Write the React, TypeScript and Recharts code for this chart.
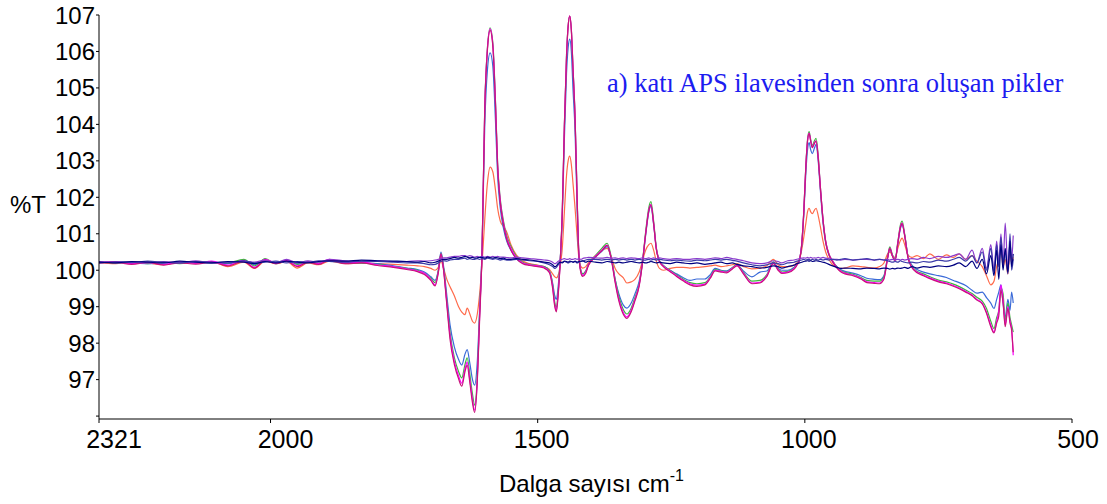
import React from 'react';
import { LineChart, Line, XAxis, YAxis, Label } from 'recharts';

// wavenumber grid (cm-1), high -> low
const wavenumbers = [
  2321, 2290, 2260, 2230, 2200, 2170, 2140, 2110, 2080, 2050,
  2030, 2010, 1990, 1970, 1950, 1930, 1910, 1890, 1860, 1830,
  1800, 1770, 1745, 1725, 1712, 1700, 1692, 1686, 1681, 1676,
  1670, 1664, 1656, 1648, 1642, 1636, 1632, 1627, 1622, 1618,
  1613, 1609, 1604, 1599, 1594, 1589, 1584, 1579, 1575, 1570,
  1564, 1558, 1550, 1540, 1528, 1515, 1500, 1488, 1478, 1472,
  1468, 1465, 1462, 1458, 1454, 1450, 1446, 1443, 1440, 1437,
  1434, 1430, 1426, 1423, 1419, 1416, 1410, 1405, 1392, 1380,
  1370, 1362, 1355, 1348, 1340, 1333, 1325, 1318, 1310, 1304,
  1298, 1292, 1288, 1283, 1278, 1272, 1265, 1252, 1240, 1228,
  1215, 1202, 1187, 1177, 1168, 1157, 1146, 1136, 1127, 1115,
  1099, 1084, 1071, 1059, 1050, 1043, 1032, 1020, 1015, 1010,
  1006, 1002, 998, 995, 992, 989, 986, 982, 979, 975,
  971, 966, 961, 955, 948, 940, 933, 925, 910, 895,
  884, 870, 860, 852, 845, 841, 836, 831, 826, 821,
  818, 813, 807, 800, 790, 778, 766, 750, 735, 722,
  711, 699, 687, 678, 668, 660, 652, 646, 641, 637,
  633, 629, 625, 620, 616, 613, 610,
];

const orangeT = [
  100.2, 100.18, 100.22, 100.2, 100.15, 100.22, 100.2, 100.24, 100.1, 100.22,
  100.05, 100.25, 100.18, 100.24, 100.06, 100.2, 100.15, 100.25, 100.18, 100.2,
  100.18, 100.16, 100.14, 100.12, 100.1, 100.05, 100.0, 100.08, 100.25, 100.05,
  99.75, 99.55, 99.3, 99.0, 98.85, 98.78, 98.96, 98.8, 98.6, 98.55,
  98.8, 99.3, 100.2, 101.4, 102.4, 102.83, 102.7, 102.2, 101.7, 101.35,
  101.2, 101.05, 100.7, 100.42, 100.25, 100.18, 100.14, 100.1, 100.02, 99.9,
  99.82, 99.79, 99.85, 100.1, 100.6, 101.6, 102.6, 103.0, 103.13, 102.9,
  102.4, 101.7, 100.9, 100.35, 100.1, 100.06, 100.1, 100.2, 100.4, 100.55,
  100.6, 100.35, 100.05, 99.9, 99.8, 99.65, 99.68, 99.75, 99.95, 100.25,
  100.55, 100.7, 100.74, 100.55, 100.25, 100.05, 100.0, 100.05, 100.08, 100.08,
  100.06, 100.08, 100.1, 100.12, 100.14, 100.1, 100.12, 100.15, 100.18, 100.1,
  100.04, 100.06, 100.12, 100.3, 100.15, 100.1, 100.1, 100.14, 100.2, 100.3,
  100.55, 100.9, 101.3, 101.6, 101.7, 101.6, 101.55, 101.65, 101.7, 101.5,
  101.2, 100.8, 100.5, 100.3, 100.15, 100.08, 100.05, 100.06, 100.12, 100.1,
  100.08, 100.06, 100.1, 100.2, 100.45, 100.5, 100.4, 100.35, 100.6, 100.82,
  100.88, 100.7, 100.42, 100.35, 100.4, 100.32, 100.45, 100.3, 100.42, 100.35,
  100.45, 100.3, 100.4, 100.25, 100.1, 99.85, 99.6, 99.7, 100.1, 100.3,
  100.6, 100.1, 100.3, 99.9, 100.5, 100.2, 100.35,
];

const blueT = [
  100.2, 100.22, 100.2, 100.18, 100.2, 100.2, 100.22, 100.2, 100.18, 100.24,
  100.15, 100.26, 100.22, 100.25, 100.18, 100.22, 100.2, 100.26, 100.22, 100.2,
  100.18, 100.12, 100.06, 100.02, 99.95, 99.82, 99.72, 100.0, 100.5, 100.1,
  99.3, 98.5, 97.9, 97.55, 97.4, 97.7, 97.82, 97.45, 97.0, 96.85,
  97.5, 98.8, 100.6, 104.0, 105.5, 105.96, 105.6, 104.1, 102.6, 101.7,
  101.15, 100.8, 100.55, 100.32, 100.2, 100.15, 100.12, 100.1, 99.98, 99.65,
  99.3, 99.2, 99.5, 100.25, 101.4, 103.6, 105.4, 106.1, 106.34, 106.0,
  105.0, 103.8, 101.6, 100.4, 99.98, 99.9, 99.98, 100.15, 100.36, 100.52,
  100.65, 100.3, 99.75, 99.35, 99.05, 98.96, 99.1, 99.35, 99.7, 100.2,
  100.95, 101.6, 101.75, 101.25, 100.6, 100.25, 100.13, 100.0, 99.9, 99.8,
  99.72, 99.76, 99.76, 99.88, 100.05, 100.0, 99.98, 100.07, 100.14, 99.98,
  99.82, 99.95, 99.98, 100.22, 100.06, 100.0, 100.0, 100.08, 100.16, 100.3,
  100.65, 101.5, 102.7, 103.3, 103.5, 103.3, 103.2, 103.35, 103.45, 103.0,
  102.2, 101.3, 100.75, 100.42, 100.24, 100.1, 100.02, 99.97, 99.92, 99.85,
  99.78, 99.75, 99.74, 99.85, 100.35, 100.58, 100.4, 100.3, 100.72, 101.15,
  101.25, 100.95, 100.38, 100.15, 100.02, 99.95, 99.9, 99.85, 99.8, 99.72,
  99.66, 99.58, 99.45, 99.37, 99.4, 99.25, 99.1, 98.95, 99.2, 99.4,
  99.6, 99.1, 98.7, 99.2, 98.9, 99.4, 99.1,
];

const greenT = [
  100.24, 100.2, 100.22, 100.18, 100.22, 100.18, 100.24, 100.2, 100.2, 100.3,
  100.12, 100.32, 100.18, 100.26, 100.16, 100.22, 100.2, 100.28, 100.22, 100.2,
  100.16, 100.1, 100.05, 100.0, 99.92, 99.78, 99.66, 99.98, 100.46, 100.04,
  99.15, 98.3, 97.6, 97.22, 97.05, 97.42, 97.6, 97.15, 96.6, 96.3,
  97.1, 98.7, 100.6, 104.5, 106.1, 106.65, 106.25, 104.65, 102.95, 101.95,
  101.35, 100.95, 100.65, 100.38, 100.22, 100.16, 100.13, 100.1, 99.97, 99.6,
  99.12, 98.98, 99.35, 100.22, 101.6, 104.0, 105.9, 106.7, 106.96, 106.6,
  105.6, 104.2, 101.9, 100.5, 99.98, 99.9, 99.98, 100.16, 100.4, 100.6,
  100.74, 100.35, 99.75, 99.28, 98.93, 98.8, 98.96, 99.25, 99.62, 100.22,
  101.05, 101.72, 101.88, 101.35, 100.62, 100.26, 100.13, 99.99, 99.87, 99.76,
  99.66, 99.63, 99.66, 99.82, 100.02, 99.98, 99.96, 100.06, 100.16, 99.94,
  99.7, 99.72, 99.88, 100.22, 100.04, 99.95, 99.97, 100.06, 100.16, 100.3,
  100.7, 101.6, 102.9, 103.58, 103.8, 103.58, 103.42, 103.55, 103.62, 103.15,
  102.3, 101.4, 100.8, 100.45, 100.26, 100.09, 99.99, 99.94, 99.89, 99.8,
  99.72, 99.7, 99.7, 99.82, 100.38, 100.64, 100.42, 100.3, 100.78, 101.25,
  101.35, 100.98, 100.38, 100.12, 99.97, 99.9, 99.82, 99.73, 99.68, 99.62,
  99.55, 99.46, 99.36, 99.26, 99.15, 98.95, 98.6, 98.4, 98.7, 98.9,
  99.5, 99.35, 98.6, 99.1, 98.7, 98.5, 98.3,
];

const magentaT = [
  100.22, 100.24, 100.18, 100.21, 100.16, 100.23, 100.19, 100.25, 100.14, 100.27,
  100.08, 100.3, 100.2, 100.28, 100.12, 100.24, 100.18, 100.3, 100.2, 100.22,
  100.15, 100.1, 100.04, 99.98, 99.92, 99.75, 99.6, 99.95, 100.45, 100.0,
  99.1, 98.2, 97.5, 97.1, 96.9, 97.3, 97.48, 97.0, 96.45, 96.16,
  97.0, 98.6, 100.6, 104.5, 106.1, 106.62, 106.2, 104.6, 102.9, 101.9,
  101.3, 100.9, 100.6, 100.35, 100.2, 100.15, 100.12, 100.08, 99.95, 99.55,
  99.05, 98.9, 99.3, 100.2, 101.6, 104.0, 105.9, 106.7, 106.98, 106.6,
  105.6, 104.2, 101.9, 100.5, 99.95, 99.86, 99.95, 100.15, 100.38, 100.55,
  100.69, 100.3, 99.7, 99.2, 98.85, 98.72, 98.9, 99.2, 99.6, 100.2,
  101.0, 101.65, 101.8, 101.3, 100.6, 100.25, 100.12, 99.98, 99.85, 99.73,
  99.63, 99.59, 99.62, 99.8, 100.0, 99.97, 99.95, 100.05, 100.14, 99.92,
  99.65, 99.67, 99.85, 100.2, 100.02, 99.93, 99.95, 100.05, 100.15, 100.3,
  100.7, 101.6, 102.9, 103.55, 103.76, 103.55, 103.38, 103.5, 103.55, 103.1,
  102.3, 101.4, 100.8, 100.45, 100.25, 100.08, 99.98, 99.92, 99.87, 99.78,
  99.68, 99.66, 99.65, 99.78, 100.35, 100.61, 100.4, 100.28, 100.75, 101.2,
  101.29, 100.95, 100.36, 100.1, 99.95, 99.87, 99.79, 99.7, 99.65, 99.58,
  99.51, 99.42, 99.32, 99.2, 99.1, 98.85, 98.5, 98.3, 98.6, 98.9,
  99.6, 99.2, 98.5, 99.0, 98.6, 98.4, 97.67,
];

const crimsonT = [
  100.2, 100.22, 100.16, 100.22, 100.14, 100.2, 100.17, 100.22, 100.12, 100.25,
  100.06, 100.28, 100.18, 100.25, 100.1, 100.22, 100.16, 100.28, 100.18, 100.2,
  100.13, 100.08, 100.02, 99.96, 99.88, 99.72, 99.57, 99.93, 100.44, 99.98,
  99.05, 98.1, 97.42, 97.02, 96.82, 97.22, 97.4, 96.92, 96.36, 96.1,
  96.95, 98.5, 100.55, 104.45, 106.05, 106.58, 106.15, 104.55, 102.85, 101.85,
  101.25, 100.85, 100.55, 100.32, 100.18, 100.13, 100.1, 100.06, 99.93, 99.5,
  99.0, 98.86, 99.25, 100.18, 101.55, 103.95, 105.85, 106.68, 106.98, 106.58,
  105.55, 104.15, 101.85, 100.45, 99.92, 99.83, 99.92, 100.13, 100.36, 100.53,
  100.68, 100.28, 99.66, 99.15, 98.8, 98.68, 98.86, 99.16, 99.57, 100.18,
  100.98, 101.63, 101.79, 101.28, 100.58, 100.23, 100.1, 99.96, 99.83, 99.71,
  99.6, 99.56, 99.6, 99.78, 99.98, 99.95, 99.93, 100.03, 100.12, 99.9,
  99.63, 99.65, 99.83, 100.18, 100.0, 99.91, 99.93, 100.03, 100.13, 100.28,
  100.68, 101.58, 102.88, 103.53, 103.75, 103.53, 103.36, 103.48, 103.54, 103.08,
  102.28, 101.38, 100.78, 100.43, 100.23, 100.06, 99.96, 99.9, 99.85, 99.76,
  99.66, 99.64, 99.63, 99.76, 100.33, 100.6, 100.38, 100.26, 100.73, 101.18,
  101.28, 100.93, 100.34, 100.08, 99.93, 99.85, 99.77, 99.68, 99.63, 99.56,
  99.49, 99.4, 99.3, 99.18, 99.08, 98.82, 98.45, 98.28, 98.55, 98.75,
  99.45, 99.1, 98.45, 98.95, 98.55, 98.35, 97.75,
];

const purpleT = [
  100.24, 100.2, 100.22, 100.2, 100.24, 100.2, 100.26, 100.2, 100.22, 100.25,
  100.22, 100.28, 100.2, 100.3, 100.2, 100.26, 100.22, 100.3, 100.26, 100.24,
  100.26, 100.24, 100.24, 100.26, 100.25, 100.26, 100.28, 100.3, 100.32, 100.34,
  100.34, 100.36, 100.38, 100.38, 100.4, 100.4, 100.38, 100.4, 100.38, 100.36,
  100.38, 100.36, 100.38, 100.36, 100.38, 100.36, 100.38, 100.36, 100.38, 100.36,
  100.36, 100.35, 100.34, 100.36, 100.34, 100.32, 100.3, 100.28, 100.26, 100.22,
  100.18, 100.2, 100.24, 100.28, 100.3, 100.32, 100.3, 100.3, 100.32, 100.3,
  100.3, 100.32, 100.3, 100.32, 100.3, 100.32, 100.34, 100.35, 100.34, 100.33,
  100.35, 100.33, 100.34, 100.32, 100.34, 100.32, 100.34, 100.33, 100.32, 100.34,
  100.32, 100.34, 100.32, 100.34, 100.32, 100.34, 100.32, 100.3, 100.32, 100.3,
  100.3, 100.32, 100.3, 100.32, 100.34, 100.32, 100.35, 100.32, 100.3, 100.26,
  100.2, 100.18, 100.2, 100.26, 100.24, 100.2, 100.26, 100.28, 100.3, 100.32,
  100.33, 100.34, 100.33, 100.35, 100.33, 100.35, 100.33, 100.34, 100.33, 100.35,
  100.33, 100.35, 100.33, 100.32, 100.3, 100.3, 100.28, 100.3, 100.28, 100.3,
  100.3, 100.28, 100.3, 100.28, 100.3, 100.28, 100.3, 100.28, 100.3, 100.28,
  100.3, 100.28, 100.3, 100.32, 100.3, 100.35, 100.32, 100.38, 100.35, 100.4,
  100.45, 100.3, 100.55, 100.2, 100.6, 100.05, 100.7, 100.0, 100.8, 100.2,
  101.0, 100.1, 101.29, 100.0, 100.7, 100.3, 100.95,
];

const slateT = [
  100.2, 100.23, 100.21, 100.25, 100.22, 100.2, 100.24, 100.22, 100.2, 100.26,
  100.2, 100.22, 100.25, 100.2, 100.24, 100.22, 100.26, 100.24, 100.22, 100.25,
  100.24, 100.22, 100.2, 100.2, 100.18, 100.15, 100.16, 100.2, 100.24, 100.26,
  100.25, 100.28, 100.3, 100.3, 100.32, 100.33, 100.3, 100.32, 100.3, 100.3,
  100.32, 100.3, 100.32, 100.3, 100.33, 100.32, 100.3, 100.32, 100.3, 100.28,
  100.3, 100.28, 100.28, 100.3, 100.28, 100.26, 100.24, 100.2, 100.15, 100.1,
  100.05, 100.08, 100.14, 100.2, 100.22, 100.24, 100.22, 100.2, 100.22, 100.24,
  100.22, 100.24, 100.2, 100.22, 100.24, 100.25, 100.28, 100.3, 100.3, 100.28,
  100.3, 100.28, 100.3, 100.28, 100.3, 100.28, 100.3, 100.28, 100.3, 100.28,
  100.28, 100.3, 100.28, 100.3, 100.28, 100.3, 100.28, 100.26, 100.28, 100.26,
  100.25, 100.28, 100.26, 100.28, 100.3, 100.28, 100.3, 100.27, 100.25, 100.2,
  100.15, 100.12, 100.15, 100.2, 100.18, 100.15, 100.2, 100.22, 100.25, 100.26,
  100.28, 100.3, 100.28, 100.3, 100.3, 100.28, 100.3, 100.28, 100.3, 100.28,
  100.3, 100.28, 100.3, 100.28, 100.3, 100.28, 100.3, 100.32, 100.28, 100.3,
  100.32, 100.28, 100.3, 100.28, 100.26, 100.24, 100.22, 100.24, 100.22, 100.26,
  100.24, 100.22, 100.2, 100.22, 100.2, 100.24, 100.22, 100.28, 100.25, 100.3,
  100.35, 100.25, 100.4, 100.2, 100.5, 100.0, 100.6, 99.95, 100.7, 100.1,
  100.9, 100.2, 100.5, 99.9, 101.0, 100.0, 100.3,
];

const navyT = [
  100.22, 100.2, 100.24, 100.22, 100.2, 100.25, 100.22, 100.2, 100.24, 100.22,
  100.18, 100.24, 100.2, 100.25, 100.22, 100.2, 100.24, 100.26, 100.25, 100.28,
  100.26, 100.25, 100.24, 100.22, 100.24, 100.2, 100.22, 100.25, 100.28, 100.3,
  100.3, 100.32, 100.35, 100.33, 100.35, 100.38, 100.36, 100.34, 100.35, 100.33,
  100.34, 100.35, 100.35, 100.33, 100.36, 100.35, 100.33, 100.35, 100.34, 100.32,
  100.33, 100.3, 100.3, 100.32, 100.3, 100.28, 100.25, 100.22, 100.2, 100.15,
  100.1, 100.12, 100.18, 100.22, 100.2, 100.25, 100.24, 100.22, 100.25, 100.24,
  100.22, 100.25, 100.22, 100.24, 100.25, 100.26, 100.22, 100.25, 100.22, 100.2,
  100.24, 100.22, 100.2, 100.22, 100.2, 100.22, 100.24, 100.22, 100.2, 100.22,
  100.2, 100.22, 100.24, 100.22, 100.2, 100.22, 100.2, 100.18, 100.22, 100.2,
  100.18, 100.2, 100.16, 100.18, 100.2, 100.22, 100.18, 100.2, 100.16, 100.12,
  100.1, 100.06, 100.08, 100.12, 100.1, 100.06, 100.1, 100.14, 100.18, 100.2,
  100.22, 100.24, 100.25, 100.26, 100.25, 100.26, 100.24, 100.25, 100.26, 100.25,
  100.24, 100.22, 100.2, 100.16, 100.12, 100.08, 100.05, 100.06, 100.05, 100.04,
  100.06, 100.05, 100.04, 100.06, 100.05, 100.03, 100.05, 100.04, 100.06, 100.05,
  100.06, 100.08, 100.05, 100.1, 100.06, 100.1, 100.08, 100.12, 100.1, 100.14,
  100.2, 100.1, 100.25, 100.05, 100.3, 99.9, 100.4, 99.85, 100.55, 99.75,
  100.7, 100.0, 100.6, 99.95, 100.8, 100.1, 100.45,
];

const xTicks = [2321, 2000, 1500, 1000, 500];
const yTicks = [96, 97, 98, 99, 100, 101, 102, 103, 104, 105, 106, 107];

const data = wavenumbers.map((w, i) => ({
  w,
  orange: orangeT[i],
  blue: blueT[i],
  green: greenT[i],
  magenta: magentaT[i],
  crimson: crimsonT[i],
  purple: purpleT[i],
  slate: slateT[i],
  navy: navyT[i],
}));

const lines = [
  { key: 'orange', color: '#ff6a4a' },
  { key: 'blue', color: '#3a6ad8' },
  { key: 'green', color: '#3cb83c' },
  { key: 'magenta', color: '#ff00ff' },
  { key: 'crimson', color: '#c8147a' },
  { key: 'purple', color: '#8a3acc' },
  { key: 'slate', color: '#3b3ba8' },
  { key: 'navy', color: '#000080' },
];

const FONT = '"Liberation Sans", Arial, sans-serif';

// the source puts the first two labels a bit right of their ticks
const labelShift: Record<number, number> = { 2321: 15, 2000: 15, 1500: 4, 1000: 4, 500: 6 };

const XTick = (props: any) => {
  const { x, y, payload } = props;
  return (
    <text x={x + (labelShift[payload.value] || 0)} y={y} dy="0.71em" textAnchor="middle"
      fontSize={25} fontFamily={FONT} fill="#000">
      {payload.value}
    </text>
  );
};

const XLabel = (props: any) => {
  const { x, y, width } = props.viewBox;
  return (
    <text x={x + width / 2 + 6} y={y + 73} textAnchor="middle" fontSize={24} fontFamily={FONT} fill="#000">
      Dalga sayısı cm<tspan dy={-11} fontSize={16}>-1</tspan>
    </text>
  );
};

const App = () => {
  return (
    <div style={{ position: 'fixed', left: 0, top: 0, width: 1107, height: 504, background: '#fff' }}>
      <LineChart width={1107} height={504} data={data} margin={{ top: 15, right: 35, left: 0, bottom: 0 }}>
        <XAxis
          dataKey="w"
          type="number"
          domain={[500, 2321]}
          reversed
          ticks={xTicks}
          tick={XTick}
          tickSize={4}
          tickMargin={7}
          height={85}
          axisLine={{ stroke: '#000' }}
          tickLine={{ stroke: '#000' }}
          label={<XLabel />}
        />
        <YAxis
          type="number"
          domain={[95.92, 107]}
          ticks={yTicks}
          allowDataOverflow
          width={99}
          tickSize={3}
          tickMargin={1}
          tickFormatter={(v: number) => (v === 96 ? '' : String(v))}
          tick={{ fontSize: 24, fontFamily: FONT, fill: '#000' }}
          axisLine={{ stroke: '#000' }}
          tickLine={{ stroke: '#000' }}
        >
          <Label value="%T" position="insideLeft" offset={10} dy={-13} fontSize={24} fontFamily={FONT} fill="#000" />
        </YAxis>
        {lines.map((l) => (
          <Line
            key={l.key}
            dataKey={l.key}
            type="monotone"
            stroke={l.color}
            strokeWidth={1.2}
            dot={false}
            isAnimationActive={false}
          />
        ))}
      </LineChart>
      <div style={{
        position: 'absolute',
        left: 607,
        top: 69.5,
        fontFamily: '"Liberation Serif", "Times New Roman", serif',
        fontSize: 26.5,
        lineHeight: 1,
        color: '#1c1cf0',
        whiteSpace: 'nowrap',
      }}>
        a) katı APS ilavesinden sonra oluşan pikler
      </div>
    </div>
  );
};

export default App;
